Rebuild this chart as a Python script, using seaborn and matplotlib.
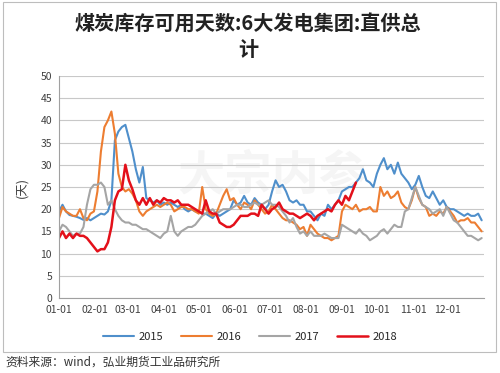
import numpy as np
import pandas as pd
import matplotlib
matplotlib.use("Agg")
import matplotlib.pyplot as plt
import seaborn as sns
from matplotlib.patches import Rectangle

# ---- data (day-of-year, sampled every 3 days) ----
days = list(range(0, 366, 3))  # 0..363

s2015 = [19.5, 21, 19.5, 18.7, 18.5, 18.3, 18, 17.6, 18, 17.5,
         18, 18.5, 19, 18.8, 19.5, 22, 35.5, 37.5, 38.5, 39,
         36, 33, 29, 26, 29.5, 22.5, 22, 21.5, 22, 21,
         21.5, 21, 21.5, 21, 20.5, 21, 20, 19.5, 20, 19.5,
         19.5, 19, 19, 18.5, 18, 19, 18.5, 19, 19.5, 20,
         22, 21, 21.5, 23, 21.5, 21, 22.5, 21.5, 21, 20,
         21, 24, 26.5, 25, 25.5, 24, 22, 21.5, 22, 21,
         21, 19.5, 19.5, 18.5, 17.5, 19, 18.5, 21, 20, 21,
         22, 24, 24.5, 25, 25, 26, 27, 29, 26.5, 26,
         25, 28, 30, 31.5, 29, 30, 28, 30.5, 28, 27,
         26, 24.5, 25.5, 27.5, 25, 23, 22.5, 24, 22.5, 21,
         22, 20.5, 20, 20, 19.5, 19, 18.5, 19, 18.5, 18.5,
         19, 17.5]

s2016 = [18, 20.5, 19.5, 19, 18.5, 18.5, 20, 18, 17.5, 19,
         19.5, 24, 33, 38.5, 40, 42, 37, 28, 25, 24,
         24.5, 23.5, 22, 19.5, 18.5, 19.5, 20, 20.5, 21, 20.5,
         21, 21.5, 21, 19.5, 20, 20.5, 20.5, 20, 20, 19.5,
         19, 25, 20, 19, 18.5, 19, 21, 23, 24.5, 22,
         22.5, 21, 20, 21.5, 21, 20, 22, 21, 20, 19,
         19.5, 21, 20, 19, 18, 17.5, 17.5, 17, 16.5, 15.5,
         16, 14, 16.5, 15.5, 14.5, 14, 13.5, 13.5, 13, 13.5,
         14, 19.5, 21, 20.5, 20, 21, 19.5, 20, 20, 20.5,
         19.5, 19.5, 25, 23, 24, 22.5, 23, 24, 21.5, 20.5,
         20, 22, 25, 22.5, 21, 20.5, 18.5, 19, 18.5, 19.5,
         19, 20.5, 19.5, 18.5, 17, 17.5, 17.5, 18, 17, 17,
         16, 15]

s2017 = [15, 16.5, 16, 15, 14, 14.5, 14.5, 16, 21, 24.5,
         25.5, 25.5, 26, 25, 21, 22, 20, 18.5, 17.5, 17,
         17, 16.5, 16.5, 16, 15.5, 15.5, 15, 14.5, 14, 13.5,
         14.5, 15, 18.5, 15, 14, 15, 15.5, 16, 16, 16.5,
         17.5, 18.5, 19, 19.5, 20, 19, 19.5, 20, 20, 20,
         20.5, 21, 21, 20.5, 20.5, 21, 21.5, 21, 21, 21.5,
         22, 21, 21, 20.5, 19.5, 18.5, 17, 18, 16, 14.5,
         15, 14, 15, 14, 14, 14, 14.5, 14, 13.5, 13.5,
         13.5, 16.5, 16, 15.5, 15, 14.5, 15.5, 14.5, 14, 13,
         13.5, 14, 15, 15.5, 14.5, 15.5, 16.5, 16, 16, 19.5,
         20, 22.5, 25, 23, 21, 20.5, 20, 19, 19.5, 20,
         18.5, 20.5, 19, 17.5, 17, 16, 15, 14, 14, 13.5,
         13, 13.5]

s2018 = [13.5, 15, 13.5, 14.5, 13.5, 14.5, 14, 14, 13.5, 12.5,
         11.5, 10.5, 11, 11, 12.5, 16, 22, 24, 24.5, 30,
         26.5, 24.5, 22, 21, 22.5, 21, 22.5, 21, 22, 21.5,
         22.5, 22, 22, 21.5, 22, 21, 21, 21, 20.5, 20,
         19.5, 19, 22, 19.5, 19, 19, 17, 16.5, 16, 16,
         16.5, 17.5, 18.5, 18.5, 18.5, 19, 19, 18.5, 21, 20,
         19, 20, 20.5, 21.5, 20, 19.5, 19, 19, 18.5, 18,
         18.5, 19, 18.5, 17.5, 18.5, 19, 19.5, 20, 19.5, 21,
         22, 21, 23, 22, 24, 26]

years = ["2015", "2016", "2017", "2018"]
month_ticks = [0, 31, 59, 90, 120, 151, 181, 212, 243, 273, 304, 334]
month_labels = ["01-01", "02-01", "03-01", "04-01", "05-01", "06-01",
                "07-01", "08-01", "09-01", "10-01", "11-01", "12-01"]
y_ticks = [0, 5, 10, 15, 20, 25, 30, 35, 40, 45, 50]

colors = {"2015": "#4F8FCB", "2016": "#ED7D31", "2017": "#A5A5A5", "2018": "#E3101A"}
widths = {"2015": 1.5, "2016": 1.5, "2017": 1.5, "2018": 1.8}

series = {"2015": s2015, "2016": s2016, "2017": s2017, "2018": s2018}
frames = []
for y in years:
    vals = series[y]
    frames.append(pd.DataFrame({"day": days[:len(vals)], "value": vals, "year": y}))
df = pd.concat(frames, ignore_index=True)

sns.set_style("white")
plt.rcParams["font.family"] = ["Noto Sans CJK SC", "DejaVu Sans"]

fig = plt.figure(figsize=(5.0, 3.73), dpi=100)
ax = fig.add_axes([59/500, 1-298/373, 425/500, 222/373])

for y in years:
    sub = df[df["year"] == y]
    sns.lineplot(data=sub, x="day", y="value", ax=ax, color=colors[y],
                 linewidth=widths[y], label=y, legend=False)

ax.set_xlim(0, 365)
ax.set_ylim(0, 50)
ax.set_yticks(y_ticks)
ax.set_yticklabels([str(t) for t in y_ticks], fontsize=7.5, color="#404040")
ax.set_xticks(month_ticks + [365])
ax.set_xticklabels(month_labels + [""], fontsize=7.5, color="#404040")
ax.grid(axis="y", color="#c8c8c8", linewidth=0.8)
ax.grid(axis="x", visible=False)
ax.set_axisbelow(True)
for side in ["top", "right"]:
    ax.spines[side].set_visible(False)
ax.spines["left"].set_color("#a0a0a0")
ax.spines["bottom"].set_color("#a0a0a0")
ax.tick_params(axis="both", which="both", length=3, color="#a0a0a0", direction="out", pad=2)
ax.set_xlabel("")
ax.set_ylabel("(天)", fontsize=9, color="#404040", labelpad=9)

# faint watermark
ax.text(0.5, 0.55, "大宗内参", transform=ax.transAxes, fontsize=34, color="#f5f5f5",
        ha="center", va="center", style="italic", fontweight="bold", zorder=0)

handles, labels = ax.get_legend_handles_labels()
fig.legend(handles, labels, loc="center", bbox_to_anchor=(0.5, 1-337/373), ncol=4,
           frameon=False, fontsize=8, handlelength=2.8, columnspacing=1.6, handletextpad=0.4)

fig.text(248/500, 1-24/373, "煤炭库存可用天数:6大发电集团:直供总", ha="center", va="center",
         fontsize=14.5, fontweight="bold", color="#222222")
fig.text(248/500, 1-50/373, "计", ha="center", va="center",
         fontsize=14.5, fontweight="bold", color="#222222")

fig.patches.append(Rectangle((3/500, 1-352/373), 493/500, 350/373, transform=fig.transFigure,
                             fill=False, edgecolor="#bdbdbd", linewidth=0.8))
fig.text(5/500, 1-362/373, "资料来源：wind，弘业期货工业品研究所", ha="left", va="center",
         fontsize=8.5, color="#333333")

fig.savefig("out.png", dpi=100, facecolor="white")
